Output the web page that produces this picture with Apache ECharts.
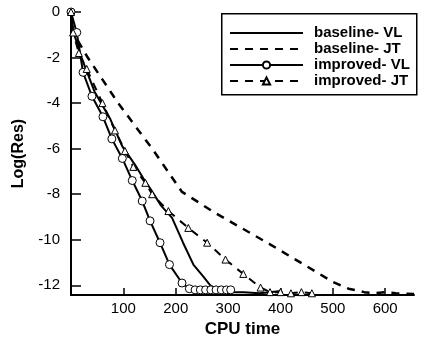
<!DOCTYPE html>
<html>
<head>
<meta charset="utf-8">
<script src="https://cdn.jsdelivr.net/npm/echarts@6/dist/echarts.min.js"></script>
<style>html,body{margin:0;padding:0;background:#fff}#c{width:424px;height:343px}</style>
</head>
<body>
<div id="c"></div>
<script>
// Data: [CPU time, Log(Res)]
const seriesNames = ['baseline- VL', 'baseline- JT', 'improved- VL', 'improved- JT'];
const xTicks = [100, 200, 300, 400, 500, 600];
const yTicks = [0, -2, -4, -6, -8, -10, -12];

const baselineVL = [[0,0],[5,-0.9],[20,-2.0],[45,-3.5],[75,-4.7],[98,-5.9],[122,-6.7],[138,-7.3],[151,-7.74],[172,-8.5],[193,-9.04],[214,-10.13],[234,-11.1],[252,-11.6],[266,-12.0],[280,-12.2],[300,-12.3],[330,-12.3],[360,-12.35],[380,-12.3],[400,-12.25]];
const baselineJT = [[0,0],[4,-0.9],[32,-2.0],[90,-4.0],[155,-6.0],[212,-7.9],[243,-8.35],[270,-8.75],[380,-10.2],[500,-11.85],[530,-12.15],[560,-12.3],[580,-12.35],[600,-12.3],[620,-12.35],[655,-12.38]];
const improvedVL = [[0,0],[11,-0.9],[23,-2.65],[40,-3.7],[61,-4.6],[78,-5.57],[98,-6.43],[117,-7.4],[136,-8.3],[151,-9.17],[170,-10.13],[188,-11.09],[212,-11.9],[226,-12.15],[237,-12.2],[247,-12.2],[257,-12.2],[267,-12.2],[277,-12.2],[287,-12.2],[297,-12.2],[305,-12.2]];
const improvedJT = [[0,0],[4,-0.9],[15,-1.8],[30,-2.5],[60,-4.0],[84,-5.2],[103,-6.1],[119,-6.8],[142,-7.5],[155,-8.0],[186,-8.74],[224,-9.48],[260,-10.13],[295,-10.87],[329,-11.5],[362,-12.1],[380,-12.3],[400,-12.3],[420,-12.35],[440,-12.3],[460,-12.35]];

const font = 'Liberation Sans, Arial, sans-serif';
const chart = echarts.init(document.getElementById('c'), null, {renderer: 'canvas'});
chart.setOption({
  animation: false,
  backgroundColor: '#fff',
  grid: {left: 71, top: 12, right: 10, bottom: 45, containLabel: false},
  graphic: [{
    type: 'rect', left: 221, top: 13, z: 100,
    shape: {width: 195, height: 81},
    style: {fill: 'rgba(0,0,0,0)', stroke: '#000', lineWidth: 1.5}
  }],
  legend: {
    orient: 'vertical', left: 221, top: 13,
    padding: [12, 8, 7, 8],
    itemWidth: 73, itemHeight: 9, itemGap: 0,
    textStyle: {fontFamily: font, fontSize: 15, fontWeight: 'bold', color: '#000', padding: [0,0,0,6], lineHeight: 16},
    data: [
      {name: seriesNames[0], itemStyle: {opacity: 0}},
      {name: seriesNames[1], itemStyle: {opacity: 0}},
      {name: seriesNames[2]},
      {name: seriesNames[3]}
    ]
  },
  xAxis: {
    type: 'value', min: 0, max: 655,
    name: 'CPU time', nameLocation: 'middle', nameGap: 24,
    nameTextStyle: {fontFamily: font, fontSize: 17, fontWeight: 'bold', color: '#000'},
    axisLine: {show: true, onZero: false, lineStyle: {color: '#000', width: 2}},
    axisTick: {show: true, inside: true, length: 7, lineStyle: {color: '#000', width: 1.5}, customValues: xTicks},
    axisLabel: {fontFamily: font, fontSize: 15, color: '#000', margin: 6, customValues: xTicks},
    splitLine: {show: false}
  },
  yAxis: {
    type: 'value', min: -12.43, max: 0,
    name: 'Log(Res)', nameLocation: 'middle', nameGap: 44, nameRotate: 90,
    nameTextStyle: {fontFamily: font, fontSize: 16, fontWeight: 'bold', color: '#000'},
    axisLine: {show: true, onZero: false, lineStyle: {color: '#000', width: 2}},
    axisTick: {show: true, inside: true, length: 10, lineStyle: {color: '#000', width: 1.5}, customValues: yTicks},
    axisLabel: {fontFamily: font, fontSize: 15, color: '#000', margin: 11, customValues: yTicks},
    splitLine: {show: false}
  },
  series: [
    {name: seriesNames[0], type: 'line', data: baselineVL, symbol: 'none', z: 3,
     lineStyle: {color: '#000', width: 2}, itemStyle: {color: '#000'}},
    {name: seriesNames[1], type: 'line', data: baselineJT, symbol: 'none', z: 3,
     lineStyle: {color: '#000', width: 2.5, type: [8, 7]}, itemStyle: {color: '#000'}},
    {name: seriesNames[2], type: 'line', data: improvedVL, symbol: 'circle', symbolSize: 8, showSymbol: true, z: 4,
     lineStyle: {color: '#000', width: 2}, itemStyle: {color: '#fff', borderColor: '#000', borderWidth: 1}},
    {name: seriesNames[3], type: 'line', data: improvedJT, symbol: 'triangle', symbolSize: 7, showSymbol: true, z: 4,
     lineStyle: {color: '#000', width: 2, type: [8, 7]}, itemStyle: {color: '#fff', borderColor: '#000', borderWidth: 1}}
  ]
});
</script>
</body>
</html>
